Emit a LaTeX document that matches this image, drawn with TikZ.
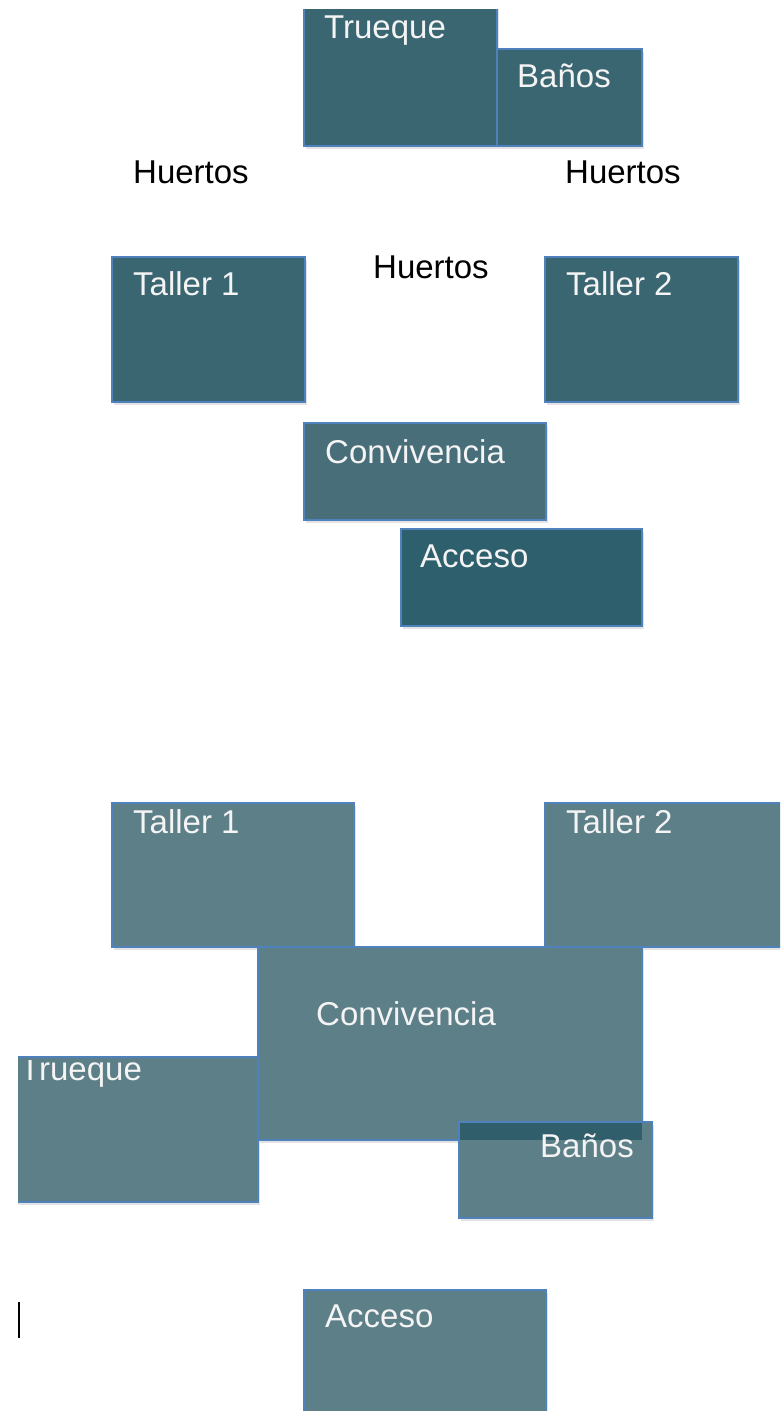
\documentclass[tikz,border=0pt]{standalone}
\usepackage{fontspec}
\setmainfont{Liberation Sans}
\usetikzlibrary{shadows}
\definecolor{topc}{HTML}{3A6672}
\definecolor{convtop}{HTML}{486E79}
\definecolor{acctop}{HTML}{2D5F6C}
\definecolor{botc}{HTML}{5C7F88}
\definecolor{overlapc}{HTML}{305E6A}
\definecolor{edge}{HTML}{4F81BD}
\definecolor{wtxt}{HTML}{F4F4F4}
\tikzset{
  x=1pt, y=-1pt,
  boxshape/.style={draw=edge, line width=1.1pt, fill=#1,
    drop shadow={shadow xshift=1.5pt, shadow yshift=-3pt, opacity=0.22}},
  wlbl/.style={inner sep=0pt, anchor=base west, text=wtxt, font=\fontsize{33}{39}\selectfont},
  blbl/.style={inner sep=0pt, anchor=base west, text=black, font=\fontsize{33}{39}\selectfont}
}
\begin{document}
\begin{tikzpicture}
\clip (0,0) rectangle (780,1411);
\fill[white] (0,0) rectangle (780,1411);
% ---------- top plan ----------
\begin{scope}
\clip (0,9) rectangle (780,1411);
\path[boxshape=topc] (304,-10) rectangle (497,146);
\end{scope}
\node[wlbl] (trq1) at (324,38) {Trueque};
\path[boxshape=topc] (497,49) rectangle (642,146);
\node[wlbl] (ban1) at (517,87) {Baños};
\node[blbl] (hu1) at (133,183) {Huertos};
\node[blbl] (hu2) at (565,183) {Huertos};
\node[blbl] (hu3) at (373,278) {Huertos};
\path[boxshape=topc] (112,257) rectangle (305,402);
\node[wlbl] (ta1) at (133,295) {Taller 1};
\path[boxshape=topc] (545,257) rectangle (738,402);
\node[wlbl] (ta2) at (566,295) {Taller 2};
\path[boxshape=convtop] (304,423) rectangle (546,520);
\node[wlbl] (con1) at (325,463) {Convivencia};
\path[boxshape=acctop] (401,529) rectangle (642,626);
\node[wlbl] (acc1) at (420,567) {Acceso};
% ---------- bottom plan ----------
\path[boxshape=botc] (112,803) rectangle (354,947);
\node[wlbl] (ta1b) at (133,833) {Taller 1};
\path[boxshape=botc] (545,803) rectangle (800,947);
\node[wlbl] (ta2b) at (566,833) {Taller 2};
\path[boxshape=botc] (258,947) rectangle (642,1140);
\node[wlbl] (con2) at (316,1025) {Convivencia};
\begin{scope}
\clip (18,0) rectangle (780,1411);
\path[boxshape=botc] (-10,1057) rectangle (258,1202);
\begin{scope}
\clip (18,1060) rectangle (258,1202);
\node[wlbl] (trq2) at (20,1080) {Trueque};
\end{scope}
\end{scope}
\path[boxshape=botc] (459,1122) rectangle (652,1218);
\fill[overlapc] (459.5,1122.5) rectangle (642,1140);
\draw[edge, line width=1.1pt] (459,1122) -- (652,1122);
\node[wlbl] (ban2) at (540,1157) {Baños};
\path[boxshape=botc] (304,1290) rectangle (546,1430);
\node[wlbl] (acc2) at (325,1327) {Acceso};
% text cursor
\coordinate (cur1) at (19,1302);
\coordinate (cur2) at (19,1338);
\draw[black, line width=1.3pt] (cur1) -- (cur2);
\end{tikzpicture}
\end{document}
